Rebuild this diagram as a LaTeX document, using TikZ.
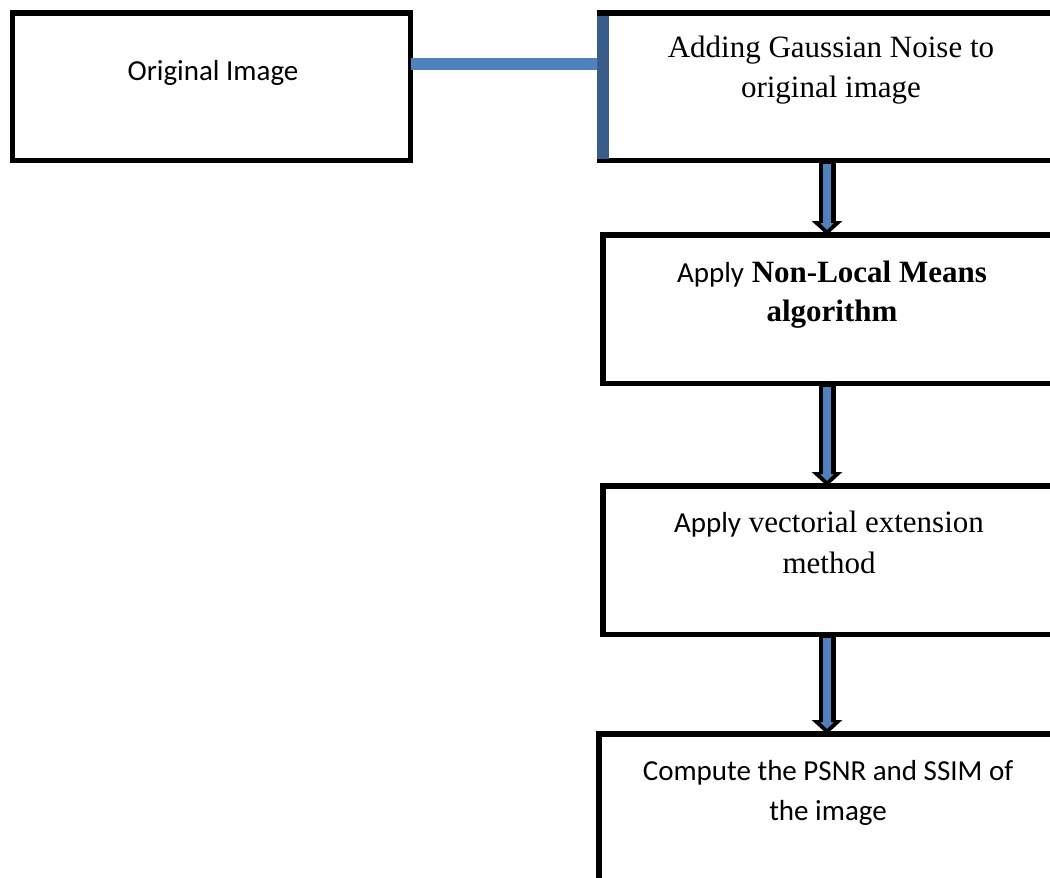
\documentclass[tikz,border=0pt]{standalone}
\usepackage{fontspec}
\setmainfont{Liberation Serif}
\newfontfamily\calfont{Carlito}
\usetikzlibrary{arrows.meta}
\definecolor{linkblue}{HTML}{4F81BD}
\definecolor{edgeblue}{HTML}{385D8A}
\tikzset{
  boxshape/.style={draw=black, line width=5.5pt, rectangle, inner sep=0pt, outer sep=0pt},
  txt/.style={anchor=base, inner sep=0pt, font=\fontsize{31}{40}\selectfont},
  sanstxt/.style={txt, font=\fontsize{29}{40}\selectfont\calfont},
  arrowout/.style={draw=black, line width=17pt, -{Triangle[width=30pt,length=14pt]}},
  arrowin/.style={draw=linkblue, line width=8pt, -{Triangle[width=13pt,length=7pt]}, shorten >=5pt, shorten <=3pt},
}
\newcommand{\sansapply}{{\fontsize{29}{40}\selectfont\calfont Apply}}
\begin{document}
\begin{tikzpicture}[x=1pt,y=-1pt]
\clip (0,0) rectangle (1050,878);
\fill[white] (0,0) rectangle (1050,878);
% boxes
\node[boxshape, minimum width=398pt, minimum height=147.5pt] (b1) at (211.5,86.75) {};
\node[boxshape, minimum width=460pt, minimum height=147.5pt] (b2) at (830,86.75) {};
\node[boxshape, minimum width=457pt, minimum height=148.5pt] (b3) at (831.5,309.25) {};
\node[boxshape, minimum width=457pt, minimum height=148.5pt] (b4) at (831.5,560.25) {};
\node[boxshape, minimum width=461pt, minimum height=200pt] (b5) at (829.5,834) {};
% connector between box 1 and box 2
\coordinate (lk) at (0,64);
\draw[linkblue, line width=12.5pt] (b1.east |- lk) -- (b2.west |- lk);
\draw[edgeblue, line width=12pt] ([xshift=3pt,yshift=-3pt]b2.north west) -- ([xshift=3pt,yshift=2pt]b2.south west);
% texts
\node[sanstxt] (t1) at (213,80) {Original Image};
\node[txt] (t2a) at (831,57) {Adding Gaussian Noise to};
\node[txt] (t2b) at (831,97) {original image};
\node[txt] (t3a) at (832,282) {\sansapply{} \textbf{Non-Local Means}};
\node[txt] (t3b) at (832,321) {\textbf{algorithm}};
\node[txt] (t4a) at (829,532) {\sansapply{} vectorial extension};
\node[txt] (t4b) at (829,573) {method};
\node[sanstxt] (t5a) at (828,780) {Compute the PSNR and SSIM of};
\node[sanstxt] (t5b) at (828,820) {the image};
% block arrows
\coordinate (a1x) at (827,0);
\draw[arrowout] (b2.south -| a1x) -- (b3.north -| a1x);
\draw[arrowin] (b2.south -| a1x) -- (b3.north -| a1x);
\draw[arrowout] (b3.south -| a1x) -- (b4.north -| a1x);
\draw[arrowin] (b3.south -| a1x) -- (b4.north -| a1x);
\draw[arrowout] (b4.south -| a1x) -- (b5.north -| a1x);
\draw[arrowin] (b4.south -| a1x) -- (b5.north -| a1x);
\end{tikzpicture}
\end{document}
